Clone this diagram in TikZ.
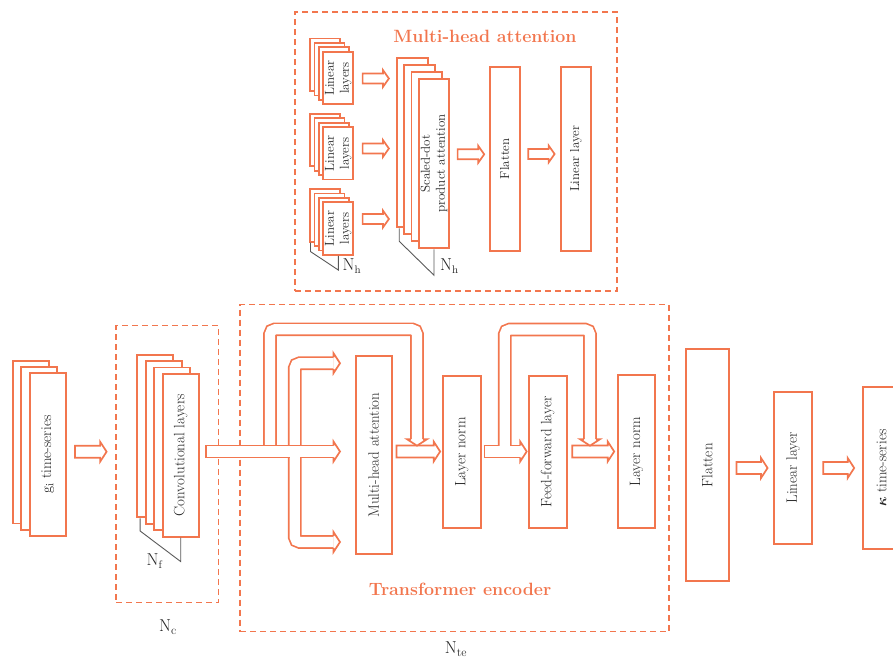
\documentclass[tikz,border=0pt]{standalone}
\usepackage{amsmath}
\usetikzlibrary{calc}
\definecolor{orc}{RGB}{242,118,78}
\newcommand\fmain{\fontsize{15}{17}\selectfont}
\newcommand\fmha{\fontsize{13}{15}\selectfont}
\newcommand\ftitle{\fontsize{17.8}{20}\selectfont\bfseries}
\newcommand\fNbig{\fontsize{18}{20}\selectfont}
\newcommand\fNsm{\fontsize{16}{18}\selectfont}
\begin{document}
\begin{tikzpicture}[x=1pt,y=-1pt,
 box/.style={draw=orc, line width=1.8pt, fill=white, inner sep=0pt},
 dbox/.style={draw=orc, line width=1.4pt, dash pattern=on 6pt off 4pt, inner sep=0pt},
 brk/.style={draw=black!65, line width=0.9pt},
 ttl/.style={text=orc, font=\ftitle},
 vlab/.style={rotate=90, text=black!85, align=center},
 nlab/.style={text=black!85},
 barrow/.style n args={3}{draw=orc, line width=1.7pt, fill=white, line join=miter,
   to path={let \p1=(\tikztostart), \p2=(\tikztotarget) in
   (\x1,\y1+#1) -- (\x2-#3,\y1+#1) -- (\x2-#3,\y1+#2) -- (\x2,\y1) -- (\x2-#3,\y1-#2) -- (\x2-#3,\y1-#1) -- (\x1,\y1-#1) -- cycle}},
 sarrow/.style={barrow={5pt}{8.5pt}{6pt}},
 marrow/.style={barrow={5.95pt}{10pt}{6.5pt}},
 pipeo/.style={draw=orc, line width=13.6pt, rounded corners=5pt},
 pipei/.style={draw=white, line width=10.2pt, rounded corners=5pt},
 phead/.pic={\fill[white] (-6.5,-10) -- (0,0) -- (-6.5,10) -- cycle;
   \draw[orc, line width=1.7pt] (-6.5,-5.95) -- (-6.5,-10) -- (0,0) -- (-6.5,10) -- (-6.5,5.95);}
]
\useasboundingbox (0,0) rectangle (893,659);
\clip (0,0) rectangle (893,659);

% ---------- dashed frames ----------
\node[dbox, minimum width=322pt, minimum height=279pt] (mhaframe) at (456,151.5) {};
\node[dbox, minimum width=102.3pt, minimum height=277pt] (ncframe) at (167.15,464.2) {};
\node[dbox, minimum width=429pt, minimum height=327pt] (teframe) at (454.5,468.2) {};

\node[ttl] (mhatitle) at (485,36) {Multi-head attention};
\node[ttl] (tetitle) at (460,589) {Transformer encoder};

% ---------- Multi-head attention detail ----------
\foreach \r/\yy in {1/78,2/153.3,3/228.6}{
  \foreach \k in {3,2,1}{
    \node[box, minimum width=30pt, minimum height=52.5pt] (ll\r b\k) at ($(338.3,\yy)+(-4.4*\k,-4.4*\k)$) {};
  }
  \node[box, minimum width=30pt, minimum height=52.5pt,
        label={[vlab, font=\fmha]center:Linear\\layers}] (ll\r) at (338.3,\yy) {};
}
\foreach \k in {3,2,1}{
  \node[box, minimum width=30.6pt, minimum height=169.3pt] (sdpb\k) at ($(434,163.7)+(-7.2*\k,-7*\k)$) {};
}
\node[box, minimum width=30.6pt, minimum height=169.3pt,
      label={[vlab, font=\fmha]center:Scaled-dot\\product attention}] (sdp) at (434,163.7) {};
\node[box, minimum width=30pt, minimum height=184pt,
      label={[vlab, font=\fmha]center:Flatten}] (mflat) at (504.7,158.7) {};
\node[box, minimum width=30.6pt, minimum height=184.3pt,
      label={[vlab, font=\fmha]center:Linear layer}] (mlin) at (576,158.8) {};

\draw[sarrow] ($(ll1.east)+(8.4,0.5)$) to ($(ll1.east)+(34.7,0.5)$);
\draw[sarrow] ($(ll2.east)+(8.4,-4.8)$) to ($(ll2.east)+(34.7,-4.8)$);
\draw[sarrow] ($(ll3.east)+(8.4,-9.6)$) to ($(ll3.east)+(34.7,-9.6)$);
\draw[sarrow] ($(sdp.east)+(7.4,-9.4)$) to ($(sdp.east)+(34,-9.4)$);
\draw[sarrow] ($(mflat.east)+(7.6,-4.7)$) to ($(mflat.east)+(34,-4.7)$);

\draw[brk] ($(ll3b3.south west)+(1.3,0)$) -- ++(0,9) -- ($(ll3.south)+(0,14.3)$) -- (ll3.south);
\draw[brk] ($(sdpb3.south west)+(3,0)$) -- ++(0,13) -- ($(sdp.south)+(0,26)$) -- (sdp.south);
\node[nlab, font=\fNsm] (nh1) at (352,266) {$\mathrm{N}_{\mathrm{h}}$};
\node[nlab, font=\fNsm] (nh2) at (449.5,266) {$\mathrm{N}_{\mathrm{h}}$};

% ---------- main chain ----------
\foreach \k in {2,1}{
  \node[box, minimum width=36pt, minimum height=162.7pt] (gb\k) at ($(47.7,454.7)+(-8.5*\k,-6.3*\k)$) {};
}
\node[box, minimum width=36pt, minimum height=162.7pt,
      label={[vlab, font=\fmain]center:$\mathrm{g}_{\mathrm{i}}$ time-series}] (gts) at (47.7,454.7) {};

\foreach \k in {3,2,1}{
  \node[box, minimum width=36pt, minimum height=162.7pt] (cvb\k) at ($(180.7,455.3)+(-8.47*\k,-6.43*\k)$) {};
}
\node[box, minimum width=36pt, minimum height=162.7pt,
      label={[vlab, font=\fmain]center:Convolutional layers}] (cv) at (180.7,455.3) {};
\draw[brk] ($(cvb3.south west)+(3.7,0)$) -- ++(0,12.7) -- ($(cv.south)+(0,24)$) -- (cv.south);
\node[nlab, font=\fNsm] (nf) at (155,561) {$\mathrm{N}_{\mathrm{f}}$};
\node[nlab, font=\fNbig] (nc) at (168,627) {$\mathrm{N}_{\mathrm{c}}$};
\node[nlab, font=\fNbig] (nte) at (456,649) {$\mathrm{N}_{\mathrm{te}}$};

\node[box, minimum width=36.3pt, minimum height=198.6pt,
      label={[vlab, font=\fmain]center:Multi-head attention}] (mha) at (373.8,455) {};
\node[box, minimum width=37.7pt, minimum height=152.6pt,
      label={[vlab, font=\fmain]center:Layer norm}] (ln1) at (461.8,452) {};
\node[box, minimum width=38pt, minimum height=152.3pt,
      label={[vlab, font=\fmain]center:Feed-forward layer}] (ff) at (547.7,451.8) {};
\node[box, minimum width=37.6pt, minimum height=153pt,
      label={[vlab, font=\fmain]center:Layer norm}] (ln2) at (636.5,451.5) {};
\node[box, minimum width=43.3pt, minimum height=232pt,
      label={[vlab, font=\fmain]center:Flatten}] (flat) at (707.3,465.3) {};
\node[box, minimum width=38pt, minimum height=152.3pt,
      label={[vlab, font=\fmain]center:Linear layer}] (lin) at (793.3,467.8) {};
\node[box, minimum width=38pt, minimum height=161.7pt,
      label={[vlab, font=\fmain]center:$\boldsymbol{\kappa}$ time-series}] (kts) at (881.7,468.2) {};

\draw[marrow] ($(gts.east)+(8.3,-3)$) to ($(gts.east)+(40,-3)$);
\draw[marrow] ($(mha.east)+(3.7,-3.5)$) to ($(mha.east)+(47.3,-3.5)$);
\draw[marrow] ($(ff.east)+(4.6,-0.3)$) to ($(ff.east)+(46.6,-0.3)$);
\draw[marrow] ($(flat.east)+(6.7,2.7)$) to ($(flat.east)+(37.7,2.7)$);
\draw[marrow] ($(lin.east)+(10,0.2)$) to ($(lin.east)+(41,0.2)$);

% ---------- pipe network 1 (conv -> MHA with residual) ----------
\coordinate (p1a) at (205.3,451.5);
\coordinate (p1ai) at (207,451.5);
\coordinate (p1m) at (333.5,451.5);
\coordinate (p1j) at (294.7,451.5);
\coordinate (p1u) at (333.5,363.2);
\coordinate (p1d) at (333.5,542);
\coordinate (p1k) at (270,451.5);
\coordinate (p1e) at (417,439.2);
\coordinate (p1t1) at (270,329.3);
\coordinate (p1t2) at (417,329.3);
\foreach \st in {pipeo,pipei}{
  \draw[\st] (p1j) |- (p1u);
  \draw[\st] (p1j) |- (p1d);
  \draw[\st] (p1k) -- (p1t1) -- (p1t2) -- (p1e);
}
\draw[pipeo] (p1a) -- (p1m);
\draw[pipei] (p1ai) -- (p1m);
\draw[pipei] (p1j) -- ++(0,-6);
\draw[pipei] (p1j) -- ++(0,6);
\draw[pipei] (p1k) -- ++(0,-6);
\pic at (340,451.5) {phead};
\pic at (340,363.2) {phead};
\pic at (340,542) {phead};
\pic[rotate=-90] at (417,445.7) {phead};

% ---------- pipe network 2 (LN -> FF with residual) ----------
\coordinate (p2a) at (483.7,451.5);
\coordinate (p2ai) at (485.4,451.5);
\coordinate (p2m) at (520.2,451.5);
\coordinate (p2k) at (504.7,451.5);
\coordinate (p2t1) at (504.7,329.5);
\coordinate (p2t2) at (590,329.5);
\coordinate (p2e) at (590,439.2);
\draw[pipeo] (p2a) -- (p2m);
\draw[pipeo] (p2k) -- (p2t1) -- (p2t2) -- (p2e);
\draw[pipei] (p2ai) -- (p2m);
\draw[pipei] (p2k) -- (p2t1) -- (p2t2) -- (p2e);
\pic at (526.7,451.5) {phead};
\pic[rotate=-90] at (590,445.7) {phead};
\end{tikzpicture}
\end{document}
